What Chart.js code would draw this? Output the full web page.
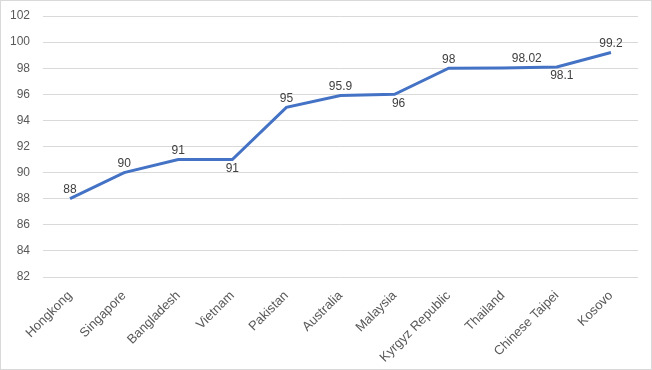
<!DOCTYPE html>
<html>
<head>
<meta charset="utf-8">
<script src="https://cdn.jsdelivr.net/npm/chart.js@4.4.1/dist/chart.umd.min.js"></script>
<style>
  html, body { margin: 0; padding: 0; background: #fff; }
  #wrap { width: 650px; height: 368px; border: 1px solid #d9d9d9; position: relative; }
</style>
</head>
<body>
<div id="wrap"><canvas id="grafica"></canvas></div>
<script>
// datos
const paises = ['Hongkong', 'Singapore', 'Bangladesh', 'Vietnam', 'Pakistan', 'Australia',
  'Malaysia', 'Kyrgyz Republic', 'Thailand', 'Chinese Taipei', 'Kosovo'];
const valores = [88, 90, 91, 91, 95, 95.9, 96, 98, 98.02, 98.1, 99.2];
const lado = ['above', 'above', 'above', 'below', 'above', 'above', 'below', 'above', 'above', 'below', 'above'];
const ticksY = [82, 84, 86, 88, 90, 92, 94, 96, 98, 100, 102];

// etiquetas de datos (sin plugin externo)
const etiquetas = {
  id: 'etiquetas',
  afterDatasetsDraw(chart, args, opts) {
    const ctx = chart.ctx;
    const meta = chart.getDatasetMeta(0);
    ctx.save();
    ctx.font = '12px "Liberation Sans", Arial, sans-serif';
    ctx.fillStyle = '#404040';
    ctx.textAlign = 'center';
    ctx.textBaseline = 'middle';
    meta.data.forEach((pt, i) => {
      const dy = lado[i] === 'below' ? 9 : -9;
      const dx = (opts.shift && opts.shift[i]) || 0;
      ctx.fillText(String(valores[i]), pt.x + dx, pt.y + dy);
    });
    ctx.restore();
  }
};

const ctx = document.getElementById('grafica').getContext('2d');
new Chart(ctx, {
  type: 'line',
  data: {
    labels: paises,
    datasets: [{
      data: valores,
      borderColor: '#4472C4',
      borderWidth: 3,
      pointRadius: 0,
      tension: 0,
      fill: false
    }]
  },
  options: {
    responsive: true,
    maintainAspectRatio: false,
    animation: false,
    layout: { padding: { top: 15, right: 13, bottom: 0, left: 0 } },
    plugins: {
      legend: { display: false },
      tooltip: { enabled: false },
      etiquetas: { shift: { 6: 4, 8: 24, 9: 5 } }
    },
    scales: {
      x: {
        offset: true,
        grid: { display: false },
        border: { display: false },
        afterFit: s => { s.height = 92; },
        ticks: {
          autoSkip: false,
          minRotation: 45,
          maxRotation: 45,
          padding: 3,
          color: '#595959',
          font: { family: '"Liberation Sans", Arial, sans-serif', size: 13 }
        }
      },
      y: {
        min: 82,
        max: 102,
        afterFit: s => { s.width = 42; s.paddingTop = 0; s.paddingBottom = 0; },
        afterBuildTicks: s => { s.ticks = ticksY.map(v => ({ value: v })); },
        grid: { color: '#d9d9d9', drawTicks: false, lineWidth: 1 },
        border: { display: false },
        ticks: {
          padding: 13,
          color: '#595959',
          font: { family: '"Liberation Sans", Arial, sans-serif', size: 12 }
        }
      }
    }
  },
  plugins: [etiquetas]
});
</script>
</body>
</html>
